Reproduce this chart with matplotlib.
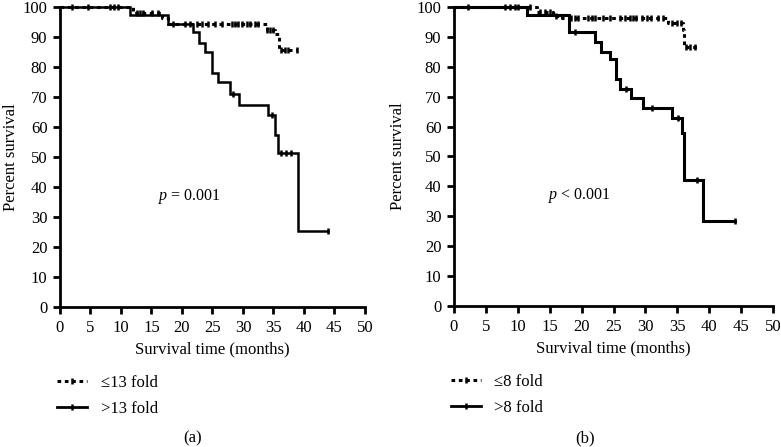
import numpy as np
import matplotlib
matplotlib.use('Agg')
import matplotlib.pyplot as plt
from matplotlib.lines import Line2D

plt.rcParams['font.family'] = 'Liberation Serif'
plt.rcParams['mathtext.fontset'] = 'custom'
plt.rcParams['mathtext.it'] = 'Liberation Serif:italic'
plt.rcParams['mathtext.rm'] = 'Liberation Serif'

# panel (a): <=13 fold (dotted) and >13 fold (solid)
a_low_t = [0, 12.0, 16.8, 17.7, 33.9, 35.3, 35.9]
a_low_s = [100, 98.0, 96.5, 94.5, 92.5, 91.0, 85.7]
a_low_end = 38.8
a_low_cens = [2.0, 4.6, 8.2, 8.9, 9.5, 12.6, 13.1, 13.6, 15.1, 16.1,
              18.5, 20.5, 21.3, 22.5, 23.3, 24.3, 25.4, 26.6, 28.2, 28.7,
              29.2, 29.8, 30.7, 31.1, 31.9, 32.5, 34.0, 34.5, 35.0,
              36.2, 36.9, 37.4, 38.8]

a_high_t = [0, 11.5, 17.7, 21.8, 22.8, 23.8, 24.9, 25.9, 27.9, 29.3, 34.1, 35.2, 35.8, 39.0]
a_high_s = [100, 97.3, 94.5, 91.7, 88.2, 85.1, 78, 75, 71, 67.3, 64, 57.3, 51.3, 25.4]
a_high_end = 44.0
a_high_cens = [28.4, 34.7, 36.3, 37.0, 37.9, 44.0]

# panel (b): <=8 fold (dotted) and >8 fold (solid)
b_low_t = [0, 13.0, 15.5, 16.9, 33.5, 35.9, 36.1]
b_low_s = [100, 98.4, 97.0, 96.2, 94.6, 92.3, 86.7]
b_low_end = 38.2
b_low_cens = [2.2, 8.0, 8.8, 9.6, 10.0, 11.9, 13.5, 14.3, 15.0, 16.0,
              18.4, 19.0, 19.5, 21.0, 21.6, 22.1, 23.4, 24.5, 26.0, 26.8,
              27.6, 28.1, 28.6, 29.4, 30.2, 30.8, 32.0, 32.8, 34.1, 34.9,
              35.6, 36.4, 37.0, 37.8]

b_high_t = [0, 11.5, 18.0, 22.1, 23.1, 24.5, 25.4, 26.0, 27.8, 29.6, 34.1, 35.7, 36.0, 39.0]
b_high_s = [100, 97.3, 91.7, 88.4, 85, 82.6, 75.9, 72.6, 69.5, 66.2, 62.9, 57.8, 42.1, 28.5]
b_high_end = 44.0
b_high_cens = [19.0, 27.0, 31.1, 35.1, 38.1, 44.0]

p_texts = [r'$\it{p}$ = 0.001', r'$\it{p}$ < 0.001']
p_pos = [(16.1, 37), (14.7, 36.8)]
legend_labels = [['≤13 fold', '>13 fold'], ['≤8 fold', '>8 fold']]
captions = ['(a)', '(b)']
ylabel_x = [-0.135, -0.152]

dotted = (0, (1.2, 1.2))


def km(ax, t, s, end, cens, ls, lw):
    xs = list(t) + [end]
    ys = list(s) + [s[-1]]
    ax.step(xs, ys, where='post', color='black', lw=lw, ls=ls, clip_on=False,
            solid_joinstyle='miter')
    cy = [s[np.searchsorted(t, c, side='right') - 1] for c in cens]
    ax.plot(cens, cy, ls='none', marker='|', ms=5, mew=1.8, color='black', clip_on=False)


fig = plt.figure(figsize=(7.81, 4.47), dpi=100)
ax_a = fig.add_axes([0.0768, 0.313, 0.3905, 0.671])
ax_b = fig.add_axes([0.5813, 0.3154, 0.4085, 0.669])

km(ax_a, a_low_t, a_low_s, a_low_end, a_low_cens, dotted, 2.2)
km(ax_a, a_high_t, a_high_s, a_high_end, a_high_cens, '-', 1.8)
km(ax_b, b_low_t, b_low_s, b_low_end, b_low_cens, dotted, 2.2)
km(ax_b, b_high_t, b_high_s, b_high_end, b_high_cens, '-', 2.2)

for i, ax in enumerate([ax_a, ax_b]):
    ax.set_xlim(0, 50)
    ax.set_ylim(0, 100)
    ax.set_xticks(np.arange(0, 51, 5))
    ax.set_yticks(np.arange(0, 101, 10))
    for sp in ['top', 'right']:
        ax.spines[sp].set_visible(False)
    for sp in ['left', 'bottom']:
        ax.spines[sp].set_linewidth(2)
    ax.tick_params(width=2, length=5, labelsize=12, pad=4)
    ax.set_xlabel('Survival time (months)', fontsize=12, labelpad=4)
    ax.set_ylabel('Percent survival', fontsize=12)
    ax.yaxis.set_label_coords(ylabel_x[i], 0.5)
    ax.text(p_pos[i][0], p_pos[i][1], p_texts[i], fontsize=11.5, va='center')
    handles = [Line2D([], [], color='black', ls=dotted, lw=2.2, marker='|', ms=5, mew=1.8),
               Line2D([], [], color='black', ls='-', lw=2.0, marker='|', ms=5, mew=1.8)]
    ax.legend(handles, legend_labels[i], loc='upper left', bbox_to_anchor=(-0.03, -0.205),
              frameon=False, fontsize=12, handlelength=1.8, numpoints=1,
              labelspacing=0.6, borderaxespad=0)

fig.text(0.246, 0.02, captions[0], ha='center', va='center', fontsize=12)
fig.text(0.749, 0.02, captions[1], ha='center', va='center', fontsize=12)

fig.savefig('out.png', dpi=100)
